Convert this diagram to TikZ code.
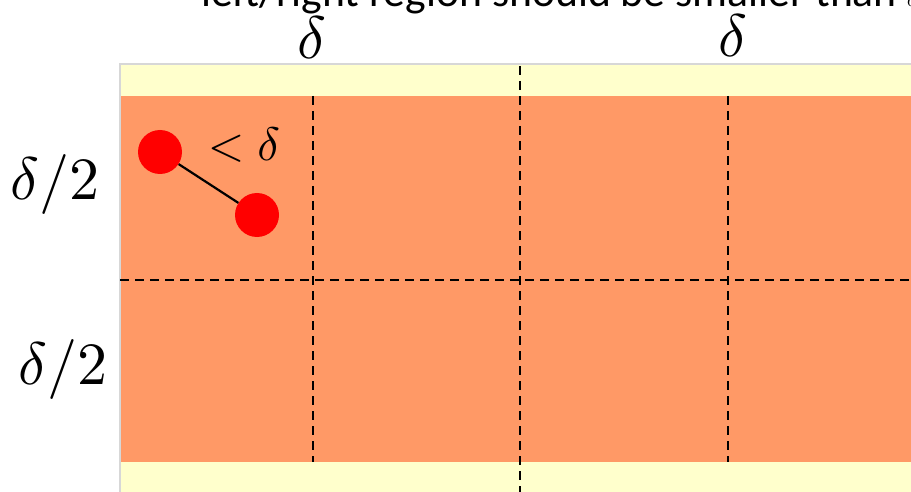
\documentclass[tikz,border=0pt]{standalone}
\usepackage{fontspec}
\newfontfamily\capfont{Carlito}
\begin{document}
\begin{tikzpicture}[x=1pt,y=-1pt,
  grid/.style={draw=black,line width=2.6pt,dash pattern=on 9pt off 6pt},
  dot/.style={circle,fill=red,draw=none,minimum size=44pt,inner sep=0pt},
  bigmath/.style={inner sep=0pt,scale=6},
  midmath/.style={inner sep=0pt,scale=4.7}]
\definecolor{yellowband}{RGB}{255,255,204}
\definecolor{orangezone}{RGB}{255,153,102}
\definecolor{edgegray}{RGB}{215,215,215}
\useasboundingbox (0,0) rectangle (911,492);
\clip (0,0) rectangle (911,492);
% background bands
\fill[yellowband] (120,64) rectangle (911,492);
\draw[edgegray,line width=1.5pt] (120,492) -- (120,64) -- (911,64);
\fill[orangezone] (121,96) rectangle (911,462);
% grid
\draw[grid] (120,280) -- (911,280);
\draw[grid] (313,96) -- (313,462);
\draw[grid] (728,96) -- (728,462);
\draw[grid] (520,66) -- (520,492);
% top caption (clipped)
\node[anchor=base west,inner sep=0pt,font=\capfont\fontsize{43.7}{52}\selectfont] (cap) at (201,7) {left/right region should be smaller than $\delta$};
% labels
\node[bigmath] (d1) at (312,38) {$\delta$};
\node[bigmath] (d2) at (733,36) {$\delta$};
\node[bigmath] (h1) at (55,185) {$\delta/2$};
\node[bigmath] (h2) at (63,369) {$\delta/2$};
% points
\node[dot] (p1) at (160,152) {};
\node[dot] (p2) at (257,215) {};
\draw[line width=2.2pt] (p1) -- (p2);
\node[midmath,anchor=west] (lt) at (207,145) {$<\delta$};
\end{tikzpicture}
\end{document}
